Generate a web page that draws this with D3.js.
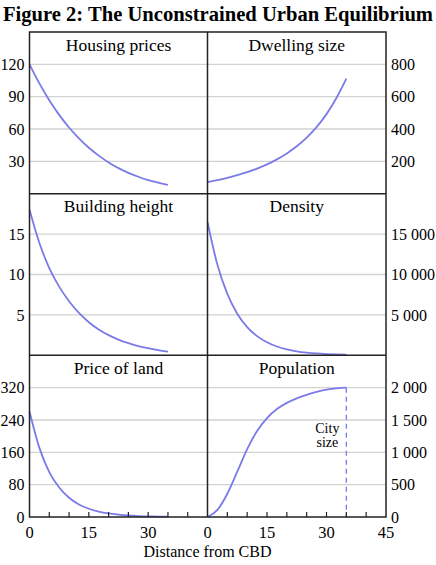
<!DOCTYPE html>
<html>
<head>
<meta charset="utf-8">
<script src="https://cdn.jsdelivr.net/npm/d3@7"></script>
<style>
  body { margin: 0; background: #fff; }
  svg { display: block; font-family: "Liberation Serif", "Times New Roman", serif; }
</style>
</head>
<body>
<div id="chart"></div>
<script>
let width  = 436,
    height = 565;

// distance from CBD (km) at which values were read
let distance       = [0, 2.5, 5, 7.5, 10, 12.5, 15, 17.5, 20, 22.5, 25, 27.5, 30, 32.5, 35];
let housingPrices  = [120, 102.3, 86.7, 73.1, 61.4, 51.3, 42.6, 35.3, 29.0, 23.7, 19.3, 15.7, 12.6, 10.2, 8.1];
let dwellingSize   = [72, 84, 98, 114, 133, 155, 181, 212, 249, 293, 347, 412, 492, 592, 712];
let buildingHeight = [18, 13.9, 10.8, 8.5, 6.7, 5.25, 4.1, 3.2, 2.5, 1.95, 1.5, 1.15, 0.88, 0.65, 0.45];
let density        = [16500, 11200, 7600, 5150, 3500, 2380, 1610, 1090, 740, 500, 340, 230, 157, 106, 72];
let landPrice      = [261, 171, 111, 73, 47.6, 31, 20.4, 13.3, 8.7, 5.7, 3.7, 2.4, 1.6, 1.0, 0.7];
let population     = [0, 110, 360, 700, 1050, 1330, 1530, 1670, 1765, 1835, 1890, 1935, 1968, 1990, 2000];
let citySize       = 35;

let titles   = ["Housing prices", "Dwelling size", "Building height", "Density", "Price of land", "Population"];
let leftTicks  = [[30, 60, 90, 120], [5, 10, 15], [0, 80, 160, 240, 320]];
let rightTicks = [[200, 400, 600, 800], [5000, 10000, 15000], [0, 500, 1000, 1500, 2000]];
let leftMax  = [150, 20, 400];
let rightMax = [1000, 20000, 2500];
let xLeftLabels  = [0, 15, 30];
let xRightLabels = [0, 15, 30, 45];
let xMinorTicks  = [5, 10, 15, 20, 25, 30, 35, 40];

let series = [housingPrices, dwellingSize, buildingHeight, density, landPrice, population];

let padLeft = 29.5, padMid = 207.5, padRight = 386, padTop = 32, padBottom = 517;
let rowH = (padBottom - padTop) / 3;

let lineColor = "#7b7be8",
    gridColor = "#d2d2d2",
    frameColor = "#222";

let fmt = d3.formatLocale({ decimal: ".", thousands: "\u00a0", grouping: [3], currency: ["", ""] }).format(",");

let xL = d3.scaleLinear().domain([0, 45]).range([padLeft, padMid]);
let xR = d3.scaleLinear().domain([0, 45]).range([padMid, padRight]);

let svg = d3.select("#chart")
  .append("svg")
    .attr("width", width)
    .attr("height", height);

svg.append("text")
    .attr("x", 218)
    .attr("y", 21)
    .attr("text-anchor", "middle")
    .attr("font-weight", "bold")
    .attr("font-size", 20.6)
    .text("Figure 2: The Unconstrained Urban Equilibrium");

for (let r = 0; r < 3; r++) {
  let y0 = padTop + r * rowH, y1 = y0 + rowH;
  let yL = d3.scaleLinear().domain([0, leftMax[r]]).range([y1, y0]);
  let yR = d3.scaleLinear().domain([0, rightMax[r]]).range([y1, y0]);

  // gridlines
  svg.append("g").selectAll("line")
    .data(leftTicks[r].filter(d => d > 0))
    .enter().append("line")
      .attr("x1", padLeft).attr("x2", padRight)
      .attr("y1", d => yL(d)).attr("y2", d => yL(d))
      .attr("stroke", gridColor).attr("stroke-width", 1.3);

  // tick labels
  svg.append("g").selectAll("text")
    .data(leftTicks[r])
    .enter().append("text")
      .attr("x", padLeft - 5)
      .attr("y", d => yL(d))
      .attr("dy", "0.35em")
      .attr("text-anchor", "end")
      .attr("font-size", 16)
      .text(d => fmt(d));

  svg.append("g").selectAll("text")
    .data(rightTicks[r])
    .enter().append("text")
      .attr("x", padRight + 5)
      .attr("y", d => yR(d))
      .attr("dy", "0.35em")
      .attr("text-anchor", "start")
      .attr("font-size", 16)
      .text(d => fmt(d));

  // curves
  [[xL, yL, series[r * 2]], [xR, yR, series[r * 2 + 1]]].forEach(function(p) {
    let line = d3.line()
      .x((d, i) => p[0](distance[i]))
      .y(d => p[1](d))
      .curve(d3.curveMonotoneX);
    svg.append("path")
      .datum(p[2])
      .attr("d", line)
      .attr("fill", "none")
      .attr("stroke", lineColor)
      .attr("stroke-width", 1.8);
  });

  // panel titles
  svg.append("text")
    .attr("x", (padLeft + padMid) / 2)
    .attr("y", y0 + 18.5)
    .attr("text-anchor", "middle")
    .attr("font-size", 17.5)
    .text(titles[r * 2]);
  svg.append("text")
    .attr("x", (padMid + padRight) / 2)
    .attr("y", y0 + 18.5)
    .attr("text-anchor", "middle")
    .attr("font-size", 17.5)
    .text(titles[r * 2 + 1]);

  if (r === 2) {
    svg.append("line")
      .attr("x1", xR(citySize)).attr("x2", xR(citySize))
      .attr("y1", yR(population[population.length - 1])).attr("y2", y1)
      .attr("stroke", lineColor)
      .attr("stroke-width", 1.3)
      .attr("stroke-dasharray", "5,4");
    let cs = svg.append("text")
      .attr("text-anchor", "middle")
      .attr("font-size", 14);
    cs.append("tspan").attr("x", xR(citySize) - 19).attr("y", yR(1300)).text("City");
    cs.append("tspan").attr("x", xR(citySize) - 19).attr("y", yR(1300) + 14.5).text("size");
  }
}

// x axis minor ticks
[xL, xR].forEach(function(x) {
  svg.append("g").selectAll("line")
    .data(xMinorTicks)
    .enter().append("line")
      .attr("x1", d => x(d)).attr("x2", d => x(d))
      .attr("y1", padBottom).attr("y2", padBottom - 5)
      .attr("stroke", frameColor).attr("stroke-width", 1.2);
});

svg.append("g").selectAll("text")
  .data(xLeftLabels)
  .enter().append("text")
    .attr("x", d => xL(d))
    .attr("y", padBottom + 20.5)
    .attr("text-anchor", "middle")
    .attr("font-size", 16.5)
    .text(d => d);

svg.append("g").selectAll("text")
  .data(xRightLabels)
  .enter().append("text")
    .attr("x", d => xR(d))
    .attr("y", padBottom + 20.5)
    .attr("text-anchor", "middle")
    .attr("font-size", 16.5)
    .text(d => d);

svg.append("text")
  .attr("x", padMid)
  .attr("y", padBottom + 40)
  .attr("text-anchor", "middle")
  .attr("font-size", 16)
  .text("Distance from CBD");

// frame
let frame = svg.append("g")
  .attr("fill", "none")
  .attr("stroke", frameColor)
  .attr("stroke-width", 1.5);
frame.append("rect")
  .attr("x", padLeft).attr("y", padTop)
  .attr("width", padRight - padLeft).attr("height", padBottom - padTop);
frame.append("line")
  .attr("x1", padMid).attr("x2", padMid)
  .attr("y1", padTop).attr("y2", padBottom);
[1, 2].forEach(function(r) {
  frame.append("line")
    .attr("x1", padLeft).attr("x2", padRight)
    .attr("y1", padTop + r * rowH).attr("y2", padTop + r * rowH);
});
</script>
</body>
</html>
